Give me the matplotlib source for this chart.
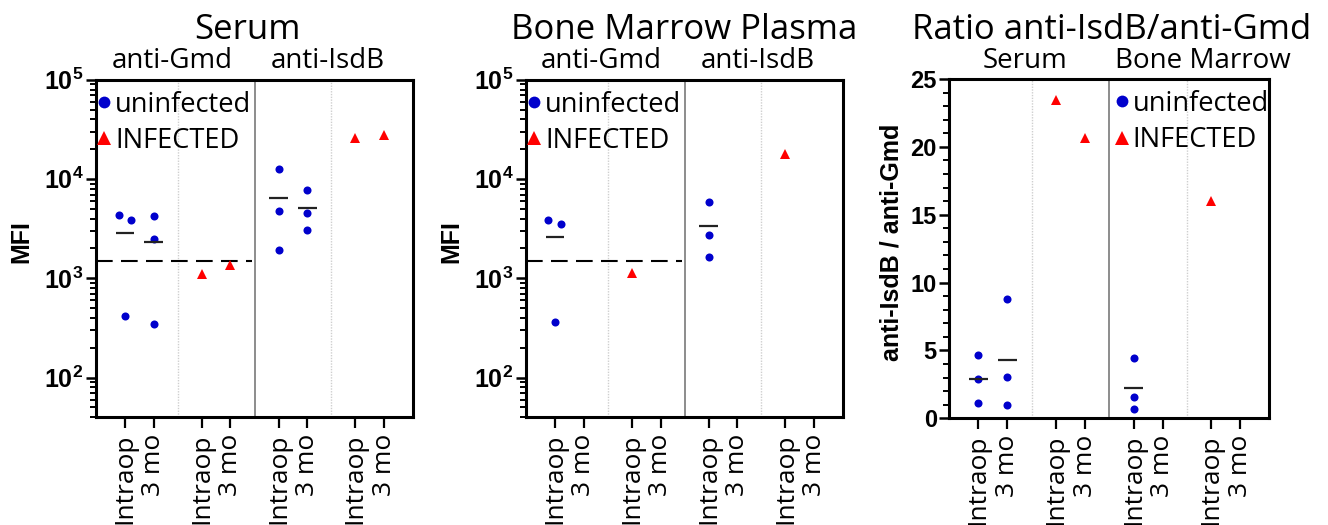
import numpy as np
import matplotlib
matplotlib.use("Agg")
import matplotlib.pyplot as plt
import matplotlib.transforms as mtransforms
from matplotlib.lines import Line2D
from matplotlib.ticker import FixedLocator, LogLocator, MultipleLocator, NullFormatter

plt.rcParams['font.family'] = ['Open Sans', 'DejaVu Sans']
plt.rcParams['mathtext.fontset'] = 'custom'
plt.rcParams['mathtext.bf'] = 'Liberation Sans:bold'
plt.rcParams['mathtext.rm'] = 'Liberation Sans:bold'

# x categories (same in every panel)
tick_labels = ["Intraop", "3 mo"] * 4

# Serum MFI: anti-Gmd then anti-IsdB, uninfected / infected, Intraop / 3 mo
serum_gmd_uninf_intraop = [4375, 3900, 416]
serum_gmd_uninf_3mo = [4210, 2495, 349]
serum_gmd_inf_intraop = [1100]
serum_gmd_inf_3mo = [1377]
serum_isdb_uninf_intraop = [12780, 4720, 1945]
serum_isdb_uninf_3mo = [7740, 4550, 3040]
serum_isdb_inf_intraop = [25770]
serum_isdb_inf_3mo = [27860]

# Bone marrow plasma MFI (3 mo not measured)
bm_gmd_uninf_intraop = [3840, 3555, 362]
bm_gmd_uninf_3mo = []
bm_gmd_inf_intraop = [1135]
bm_gmd_inf_3mo = []
bm_isdb_uninf_intraop = [5820, 2755, 1630]
bm_isdb_uninf_3mo = []
bm_isdb_inf_intraop = [17950]
bm_isdb_inf_3mo = []

# ratio anti-IsdB / anti-Gmd
ratio_serum_uninf_intraop = [4.66, 2.87, 1.10]
ratio_serum_uninf_3mo = [8.77, 3.04, 0.98]
ratio_serum_inf_intraop = [23.46]
ratio_serum_inf_3mo = [20.68]
ratio_bm_uninf_intraop = [4.42, 1.55, 0.66]
ratio_bm_uninf_3mo = []
ratio_bm_inf_intraop = [16.01]
ratio_bm_inf_3mo = []

cutoff_mfi = 1500

BLUE = '#0000cc'
RED = '#ff0000'

positions = [0, 1, 8 / 3, 11 / 3, 16 / 3, 19 / 3, 8, 9]
infected_flags = [False, False, True, True, False, False, True, True]


def draw_panel(ax, groups, jitter=None):
    jitter = jitter or {}
    for i, (x, vals, inf) in enumerate(zip(positions, groups, infected_flags)):
        if len(vals) == 0:
            continue
        offs = jitter.get(i, [0] * len(vals))
        xs = [x + o for o in offs]
        if inf:
            ax.plot(xs, vals, ls='none', marker='^', ms=6.5, color=RED, mew=0, zorder=4)
        else:
            ax.plot(xs, vals, ls='none', marker='o', ms=5.8, color=BLUE, mew=0, zorder=4)
        if len(vals) > 1:
            ax.hlines(np.mean(vals), x - 0.32, x + 0.32, color='#222222', lw=1.6, zorder=5)

    ax.axvline(4.5, color='#8c8c8c', lw=1.4, zorder=1)
    for xs in (11 / 6, 43 / 6):
        ax.axvline(xs, color='#cfcfcf', lw=1.0, ls=(0, (1, 1)), zorder=1)

    ax.set_xlim(-1, 10)
    ax.set_xticks(positions)
    ax.set_xticklabels(tick_labels, rotation=90, fontsize=19, va='top', ha='center')
    ax.tick_params(axis='x', length=8, width=1.6, pad=4)
    ax.tick_params(axis='y', which='major', length=7, width=1.8, pad=2)
    ax.tick_params(axis='y', which='minor', length=4, width=1.4)
    for s in ax.spines.values():
        s.set_linewidth(2.2)


def add_legend(ax, anchor):
    handles = [Line2D([], [], ls='none', marker='o', ms=8.5, color=BLUE, mew=0),
               Line2D([], [], ls='none', marker='^', ms=10, color=RED, mew=0)]
    ax.legend(handles, ['uninfected', 'INFECTED'], loc='upper left', bbox_to_anchor=anchor,
              frameon=False, fontsize=19.6, handlelength=0.6, handletextpad=0.1,
              borderaxespad=0, borderpad=0, labelspacing=0.3)


def log_axis(ax):
    ax.set_yscale('log')
    ax.set_ylim(40, 1e5)
    ax.yaxis.set_major_locator(FixedLocator([1e2, 1e3, 1e4, 1e5]))
    ax.set_yticklabels([r'$\mathbf{10^{2}}$', r'$\mathbf{10^{3}}$',
                        r'$\mathbf{10^{4}}$', r'$\mathbf{10^{5}}$'], fontsize=18)
    ax.yaxis.set_minor_locator(LogLocator(base=10, subs=np.arange(2, 10)))
    ax.yaxis.set_minor_formatter(NullFormatter())
    ax.set_ylabel('MFI', fontsize=18, fontweight='bold', family='Liberation Sans', va='center')
    ax.yaxis.set_label_coords(-0.237, 0.52)


fig = plt.figure(figsize=(13.28, 5.25), dpi=100)
ax1 = fig.add_axes([0.0723, 0.2057, 0.2387, 0.642])
ax2 = fig.add_axes([0.3961, 0.2057, 0.2387, 0.642])
ax3 = fig.add_axes([0.7148, 0.2032, 0.241, 0.6463])

# Serum
serum_groups = [serum_gmd_uninf_intraop, serum_gmd_uninf_3mo, serum_gmd_inf_intraop, serum_gmd_inf_3mo,
                serum_isdb_uninf_intraop, serum_isdb_uninf_3mo, serum_isdb_inf_intraop, serum_isdb_inf_3mo]
draw_panel(ax1, serum_groups, jitter={0: [-0.2, 0.2, 0]})
log_axis(ax1)
ax1.plot([-1, 4.4], [cutoff_mfi, cutoff_mfi], color='black', lw=1.5, ls=(0, (8, 4)), zorder=3)
add_legend(ax1, (0.0, 0.968))

# Bone marrow plasma
bm_groups = [bm_gmd_uninf_intraop, bm_gmd_uninf_3mo, bm_gmd_inf_intraop, bm_gmd_inf_3mo,
             bm_isdb_uninf_intraop, bm_isdb_uninf_3mo, bm_isdb_inf_intraop, bm_isdb_inf_3mo]
draw_panel(ax2, bm_groups, jitter={0: [-0.22, 0.21, 0]})
log_axis(ax2)
ax2.plot([-1, 4.4], [cutoff_mfi, cutoff_mfi], color='black', lw=1.5, ls=(0, (8, 4)), zorder=3)
add_legend(ax2, (0.0, 0.968))

# Ratio
ratio_groups = [ratio_serum_uninf_intraop, ratio_serum_uninf_3mo, ratio_serum_inf_intraop, ratio_serum_inf_3mo,
                ratio_bm_uninf_intraop, ratio_bm_uninf_3mo, ratio_bm_inf_intraop, ratio_bm_inf_3mo]
draw_panel(ax3, ratio_groups)
ax3.set_ylim(0, 25)
ax3.yaxis.set_major_locator(MultipleLocator(5))
ax3.yaxis.set_minor_locator(MultipleLocator(1))
ax3.set_yticks([0, 5, 10, 15, 20, 25])
ax3.set_yticklabels(['0', '5', '10', '15', '20', '25'], fontsize=17, fontweight='bold',
                    family='Liberation Sans')
ax3.set_ylabel('anti-IsdB / anti-Gmd', fontsize=18, fontweight='bold', family='Liberation Sans', va='center')
ax3.yaxis.set_label_coords(-0.179, 0.52)
add_legend(ax3, (0.513, 0.968))

# titles and group labels
title_info = [(ax1, 'Serum', 4.27, 'anti-Gmd', 1.63, 'anti-IsdB', 7.05),
              (ax2, 'Bone Marrow Plasma', 4.5, 'anti-Gmd', 1.6, 'anti-IsdB', 7.05),
              (ax3, 'Ratio anti-IsdB/anti-Gmd', 4.59, 'Serum', 1.6, 'Bone Marrow', 7.7)]
for ax, title, tx, left_lab, lx, right_lab, rx in title_info:
    trans = mtransforms.blended_transform_factory(ax.transData, fig.transFigure)
    ax.text(tx, 1 - 39 / 525, title, transform=trans, ha='center', va='baseline', fontsize=25)
    ax.text(lx, 1 - 68 / 525, left_lab, transform=trans, ha='center', va='baseline', fontsize=20)
    ax.text(rx, 1 - 68 / 525, right_lab, transform=trans, ha='center', va='baseline', fontsize=20)

fig.savefig('out.png', dpi=100)
